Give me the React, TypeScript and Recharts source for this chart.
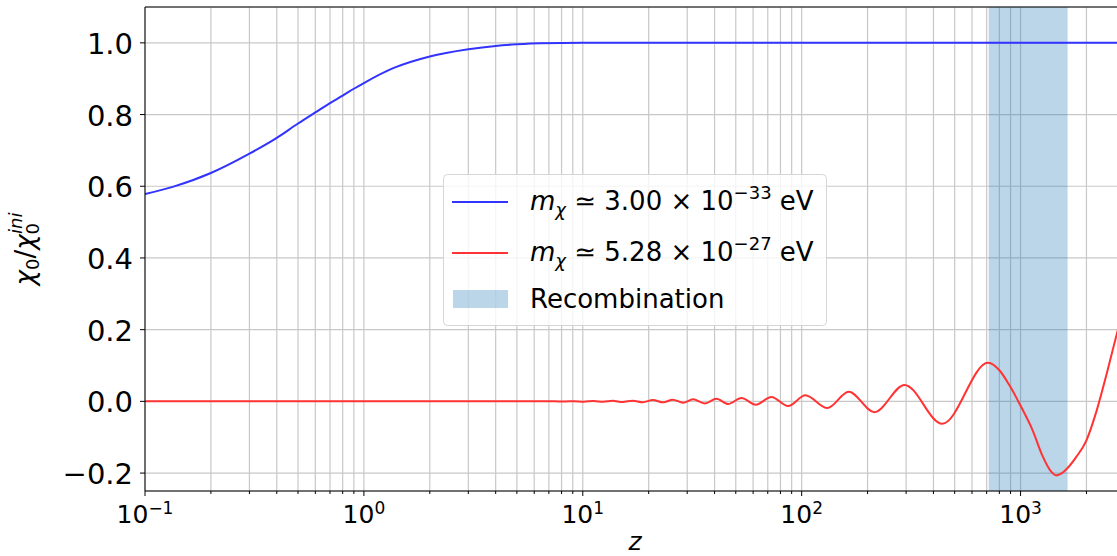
import React from 'react';
import { LineChart, Line, XAxis, YAxis, CartesianGrid, ReferenceArea, ReferenceLine } from 'recharts';

// blue curve, m ~ 3.00e-33 eV
const blueZ = [0.1, 0.135, 0.2, 0.3, 0.4, 0.5, 0.6, 0.7, 0.8, 0.9, 1.0, 1.37, 2, 3, 4, 5, 6.4, 10, 100, 1000, 3000];
const blueV = [0.578, 0.599, 0.637, 0.691, 0.735, 0.775, 0.806, 0.832, 0.853, 0.872, 0.888, 0.93, 0.962, 0.982, 0.9915, 0.996, 0.999, 1.0, 1.0, 1.0, 1.0];

// red curve, m ~ 5.28e-27 eV (extrema)
const redZ = [
  0.1, 1, 3, 7.4, 8.2, 9.1, 10.1, 11.2, 12.4, 13.7, 15.2, 16.9, 18.8,
  20.9, 23.3, 25.8, 28.7, 31.9, 36.1, 40.8, 46.1, 53.1, 61.7, 72.7, 86.7,
  104, 131, 164, 215, 295, 439, 710, 802, 891, 1000, 1138, 1255, 1380, 1455,
  1540, 1640, 1797, 1995, 2216, 2462, 2742, 3000,
];
const redV = [
  0, 0, 0, 0.0003, -0.0004, 0.0006, -0.0008, 0.001, -0.0012, 0.0014, -0.0017, 0.002, -0.0025,
  0.0037, -0.0028, 0.0047, -0.0037, 0.0056, -0.0056, 0.0074, -0.0074, 0.0093, -0.0093, 0.012, -0.013,
  0.0168, -0.0186, 0.027, -0.03, 0.046, -0.0626, 0.1075, 0.086, 0.044, -0.012, -0.082, -0.15, -0.196, -0.2065,
  -0.201, -0.186, -0.155, -0.11, -0.03, 0.072, 0.184, 0.27,
];

const recombination = [715, 1640];

const xTicks = [
  0.1, 0.2, 0.3, 0.4, 0.5, 0.6, 0.7, 0.8, 0.9,
  1, 2, 3, 4, 5, 6, 7, 8, 9,
  10, 20, 30, 40, 50, 60, 70, 80, 90,
  100, 200, 300, 400, 500, 600, 700, 800, 900,
  1000, 2000,
];
const majorExp: Record<number, string> = { 0.1: '\u22121', 1: '0', 10: '1', 100: '2', 1000: '3' };
const yTicks = [-0.2, 0, 0.2, 0.4, 0.6, 0.8, 1.0];

const blueData = blueZ.map((z, i) => ({ z, v: blueV[i] }));
const redData = redZ.map((z, i) => ({ z, v: redV[i] }));

const FONT = 'DejaVu Sans, sans-serif';

const XTick = (props: any) => {
  const { x, y, payload } = props;
  const exp = majorExp[payload.value];
  const major = exp !== undefined;
  return (
    <g>
      <line x1={x} x2={x} y1={y} y2={y + (major ? 5 : 3)} stroke="#000" strokeWidth={1} />
      {major && (
        <text x={x} y={y + 32} textAnchor="middle" fontFamily={FONT} fontSize={25} fill="#000">
          <tspan>10</tspan>
          <tspan dy={-9} fontSize={17}>{exp}</tspan>
        </text>
      )}
    </g>
  );
};

const YTick = (props: any) => {
  const { x, y, payload } = props;
  const v = payload.value as number;
  const label = (v < 0 ? '\u2212' : '') + Math.abs(v).toFixed(1);
  return (
    <g>
      <line x1={x - 5} x2={x} y1={y} y2={y} stroke="#000" strokeWidth={1} />
      <text x={x - 12} y={y + 11} textAnchor="end" fontFamily={FONT} fontSize={29} fill="#000">
        {label}
      </text>
    </g>
  );
};

function Overlay() {
  return (
    <svg width={1117} height={556} style={{ position: 'absolute', left: 0, top: 0, pointerEvents: 'none' }}>
      {/* y label */}
      <text transform="translate(34,249) rotate(-90)" textAnchor="middle" fontFamily={FONT} fontSize={26} fill="#000">
        <tspan fontStyle="italic">χ</tspan>
        <tspan dy={5} fontSize={18}>0</tspan>
        <tspan dy={-5}>/</tspan>
        <tspan fontStyle="italic">χ</tspan>
        <tspan dy={5} fontSize={18}>0</tspan>
        <tspan dx={-11} dy={-17} fontSize={18} fontStyle="italic">ini</tspan>
      </text>
      {/* x label */}
      <text x={635} y={550} textAnchor="middle" fontFamily={FONT} fontSize={25} fontStyle="italic" fill="#000">z</text>

      {/* legend */}
      <rect x={443.5} y={174.5} width={383} height={151} rx={4} fill="#fff" fillOpacity={0.8} stroke="#d6d6d6" strokeWidth={1} />
      <line x1={452} x2={508} y1={202} y2={202} stroke="#3333ff" strokeWidth={2} />
      <text x={530} y={210} fontFamily={FONT} fontSize={26} fill="#000">
        <tspan fontStyle="italic">m</tspan>
        <tspan dy={6} fontSize={18} fontStyle="italic">χ</tspan>
        <tspan dy={-6}> ≃ 3.00 × 10</tspan>
        <tspan dy={-11} fontSize={18}>−33</tspan>
        <tspan dy={11}> eV</tspan>
      </text>
      <line x1={452} x2={508} y1={253} y2={253} stroke="#ff3333" strokeWidth={2} />
      <text x={530} y={261} fontFamily={FONT} fontSize={26} fill="#000">
        <tspan fontStyle="italic">m</tspan>
        <tspan dy={6} fontSize={18} fontStyle="italic">χ</tspan>
        <tspan dy={-6}> ≃ 5.28 × 10</tspan>
        <tspan dy={-11} fontSize={18}>−27</tspan>
        <tspan dy={11}> eV</tspan>
      </text>
      <rect x={453} y={290} width={55} height={18} fill="#1f77b4" fillOpacity={0.3} />
      <text x={530} y={308} fontFamily={FONT} fontSize={26} fill="#000">Recombination</text>
    </svg>
  );
}

export default function App() {
  return (
    <div style={{ position: 'absolute', left: 0, top: 0, width: 1117, height: 556, overflow: 'hidden', background: '#fff' }}>
      <LineChart width={1140} height={556} margin={{ top: 7, right: 15, bottom: 0, left: 0 }}>
        <CartesianGrid stroke="#c8c8c8" strokeWidth={1.2} />
        <XAxis
          dataKey="z"
          type="number"
          scale="log"
          domain={[0.1, 3000]}
          allowDataOverflow
          ticks={xTicks}
          interval={0}
          height={65}
          tickSize={0}
          tickMargin={0}
          tickLine={false}
          axisLine={{ stroke: '#000', strokeWidth: 1 }}
          tick={<XTick />}
        />
        <YAxis
          type="number"
          domain={[-0.25, 1.1]}
          allowDataOverflow
          ticks={yTicks}
          width={145}
          tickSize={0}
          tickMargin={0}
          tickLine={false}
          axisLine={{ stroke: '#000', strokeWidth: 1 }}
          tick={<YTick />}
        />
        <ReferenceArea x1={recombination[0]} x2={recombination[1]} fill="#1f77b4" fillOpacity={0.3} stroke="none" />
        <ReferenceLine y={1.1} stroke="#000" strokeWidth={1} />
        <Line data={blueData} dataKey="v" type="monotone" stroke="#3333ff" strokeWidth={2} dot={false} isAnimationActive={false} />
        <Line data={redData} dataKey="v" type="monotone" stroke="#ff3333" strokeWidth={2} dot={false} isAnimationActive={false} />
      </LineChart>
      <Overlay />
    </div>
  );
}
